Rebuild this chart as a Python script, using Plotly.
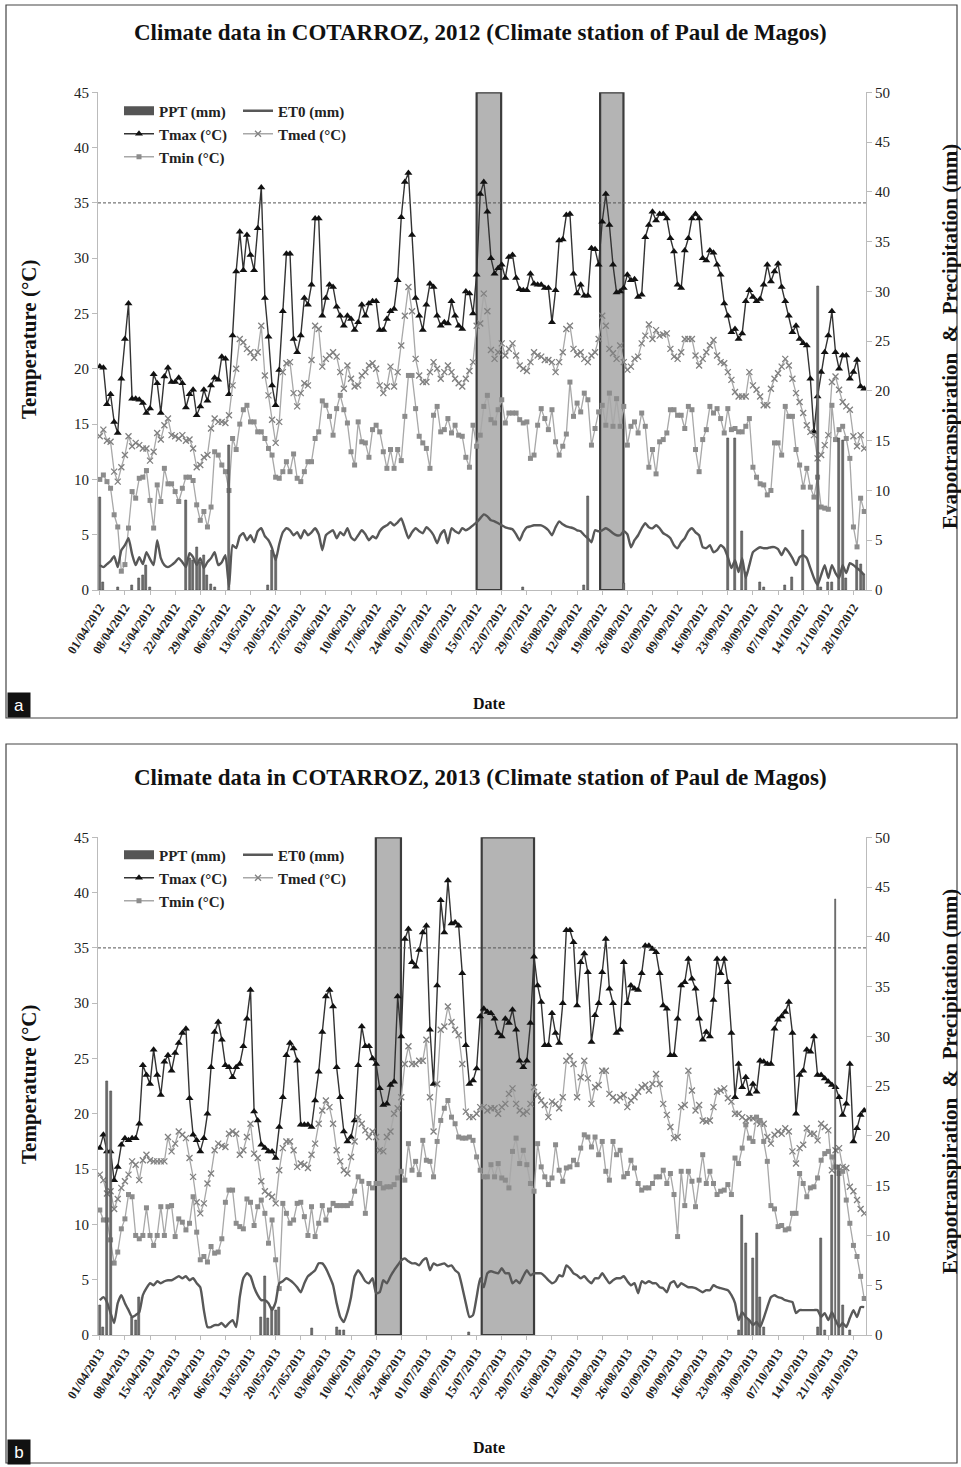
import pandas as pd
import plotly.graph_objects as go

# ---------------- DATA ----------------
START_2012 = "2012-04-01"
START_2013 = "2013-04-01"

TMAX_2012 = [20.2, 20.1, 16.8, 17.7, 15.2, 14.2, 19.1, 22.7, 25.9, 17.3,
             17.3, 17.2, 16.9, 16.0, 16.4, 19.5, 18.7, 16.0, 19.3, 20.1,
             18.8, 18.8, 19.2, 18.7, 16.5, 17.7, 18.1, 15.8, 16.6, 18.1,
             17.1, 18.5, 19.2, 19.0, 21.1, 20.9, 17.7, 23.0, 28.8, 32.4,
             28.9, 32.1, 30.3, 28.9, 32.7, 36.4, 26.4, 22.9, 18.5, 16.7,
             19.9, 25.2, 30.4, 30.4, 22.7, 21.5, 23.0, 26.4, 25.8, 27.6,
             33.6, 33.6, 24.8, 26.4, 27.6, 27.4, 25.6, 24.8, 23.9, 24.8,
             24.5, 23.5, 24.2, 25.8, 24.8, 25.9, 26.1, 26.1, 23.5, 23.5,
             24.5, 25.2, 25.4, 28.0, 33.7, 36.9, 37.7, 32.1, 26.4, 24.8,
             23.5, 25.8, 27.7, 27.4, 24.8, 23.9, 24.2, 24.1, 26.1, 24.8,
             23.9, 23.6, 27.0, 26.8, 25.0, 28.5, 35.8, 36.9, 34.2, 30.0,
             28.6, 29.1, 29.4, 28.2, 30.1, 30.3, 28.2, 27.2, 27.1, 27.1,
             28.6, 27.7, 27.6, 27.6, 27.3, 27.3, 24.2, 27.1, 31.6, 31.7,
             33.9, 34.0, 28.6, 26.8, 27.6, 26.6, 26.6, 30.9, 30.8, 29.4,
             33.3, 35.8, 33.0, 29.4, 26.9, 27.0, 27.3, 28.5, 28.0, 28.1,
             26.5, 26.7, 31.9, 33.0, 34.2, 33.4, 34.0, 34.0, 33.6, 31.8,
             30.6, 27.6, 27.3, 30.7, 31.8, 33.6, 34.0, 33.6, 30.0, 29.8,
             30.7, 30.5, 29.4, 28.5, 25.9, 24.8, 23.3, 23.6, 22.7, 23.2,
             26.1, 27.1, 26.5, 26.1, 26.3, 27.6, 29.4, 27.9, 28.8, 29.5,
             27.4, 26.1, 24.8, 23.3, 23.9, 22.7, 22.3, 22.1, 19.1, 14.3,
             17.5, 19.7, 21.5, 23.0, 25.2, 21.5, 20.0, 21.2, 21.2, 19.1,
             19.7, 20.8, 18.4, 18.2]

TMED_2012 = [13.9, 14.5, 13.5, 13.4, 10.7, 9.8, 11.1, 12.2, 13.9, 13.0,
             13.3, 13.1, 12.8, 12.8, 11.7, 12.5, 14.2, 13.6, 14.9, 15.5,
             14.0, 13.9, 13.7, 14.0, 13.5, 13.6, 12.8, 11.1, 11.3, 12.0,
             12.2, 14.6, 15.5, 15.2, 15.2, 15.1, 15.8, 18.5, 20.0, 22.7,
             22.4, 21.8, 21.5, 21.0, 21.5, 23.9, 19.4, 17.6, 15.4, 13.3,
             15.2, 19.7, 20.5, 20.6, 17.8, 16.6, 17.8, 18.7, 18.5, 20.8,
             23.9, 23.6, 20.2, 20.9, 21.2, 21.5, 21.1, 19.7, 18.2, 20.3,
             19.1, 18.4, 18.5, 19.4, 19.7, 20.3, 20.5, 20.0, 18.5, 17.8,
             18.4, 20.2, 18.4, 19.7, 22.1, 24.8, 27.4, 25.2, 20.9, 19.4,
             18.8, 18.8, 19.7, 20.6, 20.0, 19.1, 19.7, 20.3, 19.7, 19.1,
             18.7, 18.4, 19.1, 19.8, 20.6, 23.9, 24.1, 26.8, 25.2, 21.7,
             20.9, 21.5, 22.3, 21.2, 21.8, 22.3, 21.2, 20.3, 20.0, 19.8,
             20.6, 21.5, 21.2, 21.1, 20.8, 20.8, 20.6, 19.7, 20.6, 21.5,
             23.6, 23.9, 21.8, 21.3, 21.5, 20.9, 20.6, 21.2, 21.5, 22.7,
             24.8, 23.9, 21.8, 21.4, 20.9, 22.1, 20.6, 19.9, 20.2, 20.9,
             21.1, 22.3, 23.0, 24.0, 22.7, 23.5, 23.0, 23.1, 23.2, 21.8,
             21.1, 20.9, 21.5, 22.7, 22.7, 22.7, 21.2, 20.3, 20.9, 21.5,
             22.1, 22.6, 21.2, 20.6, 20.5, 19.7, 19.0, 17.9, 17.5, 17.5,
             17.5, 19.7, 18.5, 18.1, 17.5, 16.7, 16.7, 18.2, 19.1, 19.6,
             20.2, 20.9, 20.3, 19.1, 17.8, 17.0, 16.0, 14.9, 14.3, 14.0,
             11.9, 12.2, 13.1, 14.0, 18.8, 19.3, 18.1, 17.0, 16.6, 16.3,
             13.9, 13.0, 14.0, 12.8]

TMIN_2012 = [10.0, 10.4, 9.8, 9.2, 6.8, 5.7, 1.7, 2.3, 5.6, 8.9,
             8.3, 10.1, 10.2, 10.8, 8.1, 5.6, 9.5, 8.0, 11.0, 9.6,
             9.6, 8.9, 8.0, 9.2, 10.2, 10.2, 9.9, 7.7, 6.3, 7.1,
             5.7, 7.5, 12.5, 12.2, 11.3, 10.7, 9.0, 13.7, 12.7, 15.0,
             16.3, 16.7, 15.2, 15.2, 14.3, 14.3, 13.7, 12.8, 12.2, 10.2,
             10.1, 10.7, 11.6, 10.7, 12.3, 10.1, 9.8, 10.7, 11.6, 11.6,
             13.7, 14.3, 17.1, 16.7, 15.7, 14.0, 16.4, 17.6, 16.3, 15.1,
             12.5, 11.3, 15.2, 13.4, 13.3, 12.0, 14.5, 14.9, 14.3, 12.5,
             11.0, 12.7, 11.0, 12.7, 11.7, 15.7, 19.4, 19.4, 16.4, 13.9,
             13.3, 12.8, 11.0, 15.8, 16.6, 14.3, 14.5, 15.5, 14.2, 14.9,
             14.0, 13.9, 12.0, 11.1, 14.9, 13.0, 14.0, 16.6, 17.6, 15.4,
             15.1, 16.3, 17.2, 15.1, 16.0, 16.0, 16.0, 15.4, 15.1, 15.2,
             11.9, 12.2, 14.9, 16.4, 15.5, 14.5, 16.3, 13.4, 12.2, 13.0,
             14.1, 18.8, 15.7, 16.9, 16.1, 17.8, 17.2, 13.1, 14.6, 16.1,
             16.7, 14.9, 17.8, 14.8, 17.3, 14.8, 16.6, 13.1, 14.8, 15.2,
             14.2, 16.0, 14.8, 11.1, 12.7, 10.5, 13.4, 13.6, 14.2, 16.3,
             16.3, 15.8, 15.8, 14.6, 16.6, 16.3, 12.7, 10.7, 13.6, 14.5,
             16.6, 16.0, 16.4, 15.5, 14.2, 16.4, 14.5, 14.6, 14.3, 14.3,
             14.8, 15.5, 11.1, 10.2, 9.6, 9.5, 8.6, 9.0, 13.3, 13.3,
             12.2, 16.6, 15.7, 15.7, 12.7, 11.3, 9.3, 11.0, 9.3, 8.4,
             10.2, 7.5, 7.4, 7.3, 16.7, 13.6, 14.5, 14.8, 13.7, 11.9,
             5.7, 3.9, 8.3, 7.1]

ET0_2012 = [2.5, 2.3, 2.6, 2.9, 3.4, 2.3, 4.0, 4.5, 5.2, 3.6,
            2.5, 3.3, 2.6, 3.8, 3.1, 2.5, 5.0, 3.2, 2.5, 2.3,
            2.5, 2.8, 3.2, 2.8, 2.3, 3.7, 3.3, 2.5, 3.2, 2.2,
            2.8, 3.2, 3.8, 2.5, 2.8, 3.5, 0.3, 4.5, 4.2, 5.4,
            5.7, 5.0, 5.5, 4.8, 5.9, 6.2, 5.4, 5.0, 4.2, 3.0,
            4.6, 5.8, 6.2, 6.0, 5.5, 5.8, 5.2, 6.0, 5.5, 5.8,
            6.2, 5.6, 4.0, 5.5, 5.8, 6.0, 5.2, 5.8, 5.5, 6.2,
            5.3, 5.0, 5.5, 6.0, 5.6, 5.0, 5.4, 5.2, 5.9, 6.3,
            6.5, 6.8, 6.5, 6.8, 7.2, 6.2, 5.2, 5.8, 6.2, 5.9,
            5.7, 6.3, 6.0, 5.5, 4.7, 5.6, 6.0, 4.7, 6.2, 5.9,
            5.7, 6.2, 6.0, 6.2, 6.5, 6.8, 7.2, 7.6, 7.4, 7.0,
            6.9, 6.7, 6.5, 6.3, 6.2, 6.1, 5.6, 5.0, 5.8, 6.3,
            6.4, 6.5, 6.5, 6.5, 6.3, 6.0, 5.5, 6.3, 6.9, 6.6,
            6.4, 6.3, 6.2, 6.0, 5.9, 5.5, 5.2, 4.8, 6.0, 5.9,
            6.0, 6.2, 6.0, 5.7, 5.5, 5.5, 5.9, 5.6, 4.3, 5.0,
            5.5, 6.2, 6.7, 6.3, 6.2, 6.5, 6.2, 5.7, 5.5, 5.2,
            4.5, 4.2, 4.8, 5.2, 5.9, 6.2, 5.8, 5.5, 4.3, 4.2,
            4.5, 3.8, 4.0, 4.5, 4.2, 3.3, 2.2, 3.0, 1.8, 3.2,
            1.2, 2.5, 3.8, 4.1, 4.3, 4.2, 4.2, 4.3, 4.3, 4.1,
            3.5, 4.2, 3.8, 3.2, 2.5, 3.3, 3.5, 3.2, 2.2, 1.2,
            0.5, 1.5, 2.5, 1.2, 2.5, 1.7, 1.2, 2.5, 1.7, 2.7,
            2.5, 2.2, 1.9, 1.5]

PPT_2012_DATES = ["2012-04-01", "2012-04-02", "2012-04-06", "2012-04-10", "2012-04-12",
                  "2012-04-13", "2012-04-14", "2012-04-15", "2012-04-25", "2012-04-26",
                  "2012-04-27", "2012-04-28", "2012-04-29", "2012-04-30", "2012-05-01",
                  "2012-05-02", "2012-05-03", "2012-05-07", "2012-05-18", "2012-05-19",
                  "2012-05-20", "2012-07-28", "2012-08-14", "2012-08-15", "2012-08-25",
                  "2012-09-23", "2012-09-25", "2012-09-27", "2012-09-28", "2012-10-02",
                  "2012-10-03", "2012-10-09", "2012-10-11", "2012-10-14", "2012-10-18",
                  "2012-10-19", "2012-10-21", "2012-10-22", "2012-10-24", "2012-10-25",
                  "2012-10-26", "2012-10-29", "2012-10-30", "2012-10-31"]
PPT_2012_MM = [9.3, 0.8, 0.3, 0.5, 1.2,
               1.5, 2.5, 0.3, 9.0, 3.2,
               3.0, 4.3, 2.8, 3.5, 1.5,
               0.6, 0.3, 14.5, 0.5, 4.0,
               3.5, 0.3, 0.5, 9.4, 0.7,
               15.2, 15.2, 5.9, 1.8, 0.8,
               0.3, 0.5, 1.3, 6.0, 30.5,
               0.3, 0.8, 0.8, 15.2, 15.0,
               1.2, 3.0, 2.6, 1.6]

TMAX_2013 = [16.9, 18.1, 16.6, 16.6, 14.0, 15.2, 17.2, 17.8, 17.6, 17.8,
             17.8, 19.1, 24.4, 23.5, 22.7, 25.8, 23.5, 21.7, 24.7, 25.3,
             23.9, 25.5, 26.4, 27.3, 27.7, 21.4, 18.1, 17.6, 16.6, 17.8,
             20.0, 24.2, 27.4, 28.3, 26.7, 24.4, 24.2, 23.3, 24.2, 24.5,
             26.1, 28.6, 31.2, 20.2, 19.4, 17.2, 16.9, 16.6, 16.6, 16.0,
             18.8, 21.5, 25.3, 26.4, 25.9, 24.8, 19.0, 19.0, 19.0, 18.8,
             21.2, 23.8, 27.4, 30.6, 31.2, 29.7, 24.2, 21.5, 18.4, 17.5,
             17.9, 19.4, 24.4, 27.9, 26.1, 26.1, 25.0, 24.5, 22.3, 20.8,
             20.9, 22.6, 22.9, 30.6, 27.0, 35.8, 36.7, 33.7, 33.3, 34.8,
             36.4, 37.0, 27.6, 22.7, 31.6, 39.3, 36.4, 41.1, 37.2, 37.3,
             37.0, 32.7, 26.2, 22.7, 23.0, 24.1, 28.8, 29.5, 29.2, 29.1,
             28.6, 27.3, 27.0, 28.6, 28.2, 29.4, 27.6, 24.8, 24.2, 24.8,
             28.2, 34.2, 31.6, 30.1, 26.2, 26.2, 29.1, 27.3, 26.4, 30.0,
             36.6, 36.6, 35.5, 29.8, 33.7, 34.5, 32.8, 26.5, 28.9, 30.0,
             32.8, 35.8, 31.3, 30.0, 27.3, 27.6, 33.7, 30.0, 31.6, 31.3,
             31.2, 32.7, 35.2, 35.2, 34.9, 34.6, 32.7, 29.8, 29.5, 25.3,
             25.3, 28.6, 31.6, 31.9, 34.0, 32.2, 31.3, 28.6, 26.7, 27.4,
             27.0, 30.3, 34.0, 32.7, 34.0, 31.9, 27.3, 21.5, 24.5, 22.4,
             23.3, 21.8, 22.7, 22.0, 24.8, 24.7, 24.5, 24.5, 27.7, 28.5,
             28.8, 29.2, 30.1, 27.3, 20.0, 23.5, 23.9, 25.8, 25.6, 27.0,
             23.5, 23.5, 23.2, 22.9, 22.6, 22.4, 21.5, 19.9, 20.9, 24.5,
             17.5, 18.7, 19.9, 20.3]

TMED_2013 = [14.5, 14.0, 12.8, 13.0, 11.4, 12.3, 13.3, 13.9, 14.5, 15.7,
             15.4, 14.0, 15.8, 16.3, 15.8, 15.7, 15.7, 15.7, 15.7, 17.9,
             16.6, 17.3, 18.4, 18.1, 17.8, 16.0, 14.3, 12.0, 11.0, 11.9,
             13.7, 14.6, 16.7, 17.3, 17.1, 17.0, 18.2, 18.4, 18.2, 16.3,
             16.7, 17.9, 19.1, 16.4, 16.0, 13.9, 13.0, 12.7, 12.5, 11.9,
             14.9, 16.9, 17.5, 17.5, 16.7, 15.2, 15.5, 15.4, 15.1, 16.3,
             17.3, 19.1, 20.3, 21.2, 20.6, 19.1, 16.7, 15.7, 14.9, 14.6,
             16.1, 17.5, 19.7, 19.1, 18.5, 17.9, 18.4, 17.9, 16.7, 16.6,
             17.9, 18.4, 20.0, 20.5, 21.5, 24.5, 26.1, 24.5, 24.5, 24.8,
             24.8, 26.7, 21.5, 18.4, 22.7, 27.6, 27.9, 29.7, 28.3, 27.6,
             27.1, 24.5, 20.2, 19.7, 19.7, 20.0, 20.6, 20.6, 20.3, 20.5,
             20.5, 20.0, 20.6, 20.9, 21.8, 22.3, 20.9, 20.3, 20.0, 20.2,
             20.9, 22.4, 21.7, 21.2, 20.8, 19.7, 21.1, 20.9, 20.5, 21.5,
             24.8, 25.2, 24.5, 21.5, 23.3, 24.8, 23.2, 20.9, 22.4, 22.6,
             23.9, 23.9, 21.8, 21.5, 21.2, 21.5, 21.7, 20.6, 21.2, 21.5,
             22.0, 22.4, 22.6, 22.1, 22.7, 23.6, 22.7, 20.9, 19.9, 18.8,
             17.8, 17.9, 20.6, 20.8, 23.9, 22.1, 20.3, 20.8, 19.4, 19.3,
             19.4, 20.6, 22.0, 22.1, 22.3, 21.4, 21.1, 20.0, 20.0, 19.7,
             19.4, 19.6, 19.6, 19.3, 19.1, 19.1, 17.9, 17.3, 18.1, 18.4,
             18.2, 18.7, 18.4, 16.6, 15.5, 16.9, 17.2, 18.7, 18.2, 18.2,
             17.6, 19.1, 18.8, 18.5, 14.9, 16.7, 16.9, 15.2, 15.1, 13.4,
             13.0, 12.2, 11.4, 11.0]

TMIN_2013 = [11.3, 10.4, 10.4, 8.6, 6.5, 7.5, 9.6, 10.5, 12.7, 12.5,
             9.0, 8.7, 9.0, 11.5, 9.0, 8.1, 9.0, 11.6, 9.0, 11.6,
             11.7, 8.9, 10.5, 10.2, 9.5, 10.1, 12.5, 9.3, 6.8, 7.1,
             6.6, 8.0, 7.4, 7.5, 8.7, 12.0, 13.1, 13.1, 10.1, 9.8,
             9.6, 12.3, 12.0, 9.9, 11.6, 12.2, 11.0, 8.3, 10.4, 6.8,
             4.2, 11.9, 11.0, 10.1, 10.4, 11.9, 12.0, 10.7, 9.0, 11.6,
             8.9, 10.1, 11.7, 10.4, 11.3, 11.9, 11.7, 11.7, 11.7, 11.7,
             11.9, 13.0, 14.3, 13.9, 11.0, 13.7, 13.3, 13.7, 13.7, 13.3,
             13.4, 13.4, 13.6, 14.2, 14.8, 14.0, 17.3, 14.9, 15.7, 14.5,
             17.6, 15.8, 15.7, 14.3, 17.5, 19.4, 20.5, 21.2, 19.7, 19.1,
             17.9, 17.8, 17.8, 17.9, 17.6, 16.1, 14.9, 14.3, 14.3, 15.4,
             14.3, 15.5, 14.2, 14.0, 13.3, 16.6, 17.8, 15.5, 16.7, 15.4,
             13.7, 13.0, 17.3, 15.2, 14.3, 13.6, 14.2, 17.2, 14.9, 13.9,
             15.1, 15.2, 15.8, 15.4, 16.9, 18.1, 17.9, 17.0, 17.9, 16.3,
             17.5, 14.8, 14.0, 17.5, 16.3, 16.7, 14.3, 14.6, 15.8, 15.1,
             13.7, 13.1, 13.3, 13.3, 13.7, 14.3, 14.3, 14.9, 13.7, 14.6,
             12.7, 8.9, 14.8, 11.7, 14.8, 13.9, 11.6, 14.0, 16.3, 13.7,
             14.8, 13.7, 12.7, 13.0, 13.1, 13.6, 12.7, 16.0, 15.5, 16.9,
             19.0, 17.8, 17.5, 19.7, 19.4, 17.5, 15.7, 11.7, 11.4, 9.8,
             9.9, 9.5, 9.6, 11.0, 11.0, 14.6, 13.7, 12.5, 13.3, 13.4,
             14.2, 15.8, 16.4, 16.6, 16.1, 15.2, 14.6, 14.8, 12.2, 10.1,
             8.1, 7.1, 5.3, 3.3]

ET0_2013 = [3.5, 3.8, 3.3, 2.2, 1.2, 3.2, 4.0, 3.2, 2.5, 1.8,
            2.0, 2.3, 4.0, 4.7, 5.2, 5.0, 5.4, 5.2, 5.4, 5.5,
            5.5, 5.7, 5.9, 5.7, 5.9, 5.5, 5.7, 5.2, 4.8, 2.5,
            0.8, 0.8, 1.0, 1.0, 1.2, 0.8, 1.2, 1.5, 0.8, 3.8,
            5.7, 6.2, 5.9, 4.8, 4.0, 3.5, 3.5, 3.2, 2.5, 3.3,
            5.2, 5.4, 5.7, 5.5, 5.2, 4.8, 4.3, 5.2, 5.9, 6.2,
            6.5, 7.2, 7.2, 6.7, 5.9, 5.0, 3.2, 1.8, 1.3, 2.3,
            3.8, 5.9, 6.5, 6.0, 5.4, 5.2, 5.7, 4.2, 4.3, 5.5,
            5.2, 5.9, 6.5, 7.0, 7.5, 7.7, 7.4, 7.2, 7.2, 7.0,
            7.5, 7.7, 6.5, 7.2, 7.0, 7.1, 7.2, 6.9, 7.0, 6.5,
            6.2, 4.8, 3.2, 1.8, 2.0, 3.8, 5.7, 4.8, 6.2, 6.4,
            6.3, 6.2, 6.7, 6.2, 6.2, 5.2, 5.5, 5.2, 5.9, 6.5,
            6.0, 6.2, 6.2, 6.2, 5.9, 5.5, 5.2, 5.4, 6.0, 5.9,
            7.0, 6.7, 6.2, 6.0, 5.7, 5.9, 5.5, 5.2, 5.7, 5.7,
            6.2, 5.7, 5.2, 5.5, 5.7, 5.7, 5.9, 5.4, 5.0, 5.2,
            4.2, 5.4, 5.2, 5.4, 5.2, 5.2, 4.8, 4.7, 4.3, 5.2,
            5.4, 4.8, 5.2, 5.0, 4.8, 4.8, 4.7, 4.5, 4.3, 4.5,
            4.5, 5.0, 4.8, 4.7, 4.6, 4.5, 4.0, 3.2, 1.5, 2.3,
            1.8, 1.5, 1.0, 1.3, 0.8, 1.7, 2.8, 3.8, 4.0, 3.8,
            3.7, 3.5, 3.4, 3.3, 2.2, 2.5, 2.5, 2.5, 2.5, 2.5,
            2.5, 1.8, 2.2, 1.5, 2.3, 1.5, 0.8, 1.2, 0.8, 1.7,
            2.5, 1.8, 2.8, 2.8]

PPT_2013_DATES = ["2013-04-01", "2013-04-02", "2013-04-03", "2013-04-04", "2013-04-10",
                  "2013-04-11", "2013-04-12", "2013-05-16", "2013-05-17", "2013-05-18",
                  "2013-05-19", "2013-05-20", "2013-05-21", "2013-05-30", "2013-06-06",
                  "2013-06-07", "2013-06-08", "2013-07-13", "2013-09-26", "2013-09-27",
                  "2013-09-28", "2013-09-29", "2013-09-30", "2013-10-01", "2013-10-02",
                  "2013-10-03", "2013-10-18", "2013-10-19", "2013-10-20", "2013-10-22",
                  "2013-10-23", "2013-10-24", "2013-10-25", "2013-10-27"]
PPT_2013_MM = [3.0, 0.8, 25.5, 24.5, 1.8,
               1.5, 3.8, 1.8, 5.9, 1.7,
               2.8, 2.5, 2.8, 0.7, 0.8,
               0.5, 0.5, 0.3, 0.5, 12.0,
               9.2, 1.5, 7.7, 10.2, 3.8,
               0.8, 0.8, 9.7, 0.5, 16.0,
               43.8, 17.0, 3.0, 0.5]

# shaded periods (start, end) and temperature threshold
SHADE_2012 = [("2012-07-15 00:00", "2012-07-21 20:00"), ("2012-08-18 10:00", "2012-08-24 22:00")]
SHADE_2013 = [("2013-06-16 22:00", "2013-06-23 22:00"), ("2013-07-16 10:00", "2013-07-31 00:00")]
THRESHOLD = 35

TITLE_2012 = "Climate data in COTARROZ, 2012 (Climate station of Paul de Magos)"
TITLE_2013 = "Climate data in COTARROZ, 2013 (Climate station of Paul de Magos)"

# ---------------- FIGURE ----------------
SERIF = "Liberation Serif"
W, H = 961, 1467
ML, MR, MT, MB = 98, 95, 92, 132
PW, PH = W - ML - MR, H - MT - MB


def px(x):
    return (x - ML) / PW


def py(y):
    return (H - MB - y) / PH


fig = go.Figure()

panels = [
    dict(start=START_2012, tmax=TMAX_2012, tmed=TMED_2012, tmin=TMIN_2012, et0=ET0_2012,
         pd_=PPT_2012_DATES, pm=PPT_2012_MM, xa="x", ya="y", ya2="y2",
         legs=("legend", "legend2", "legend3"), shade=SHADE_2012),
    dict(start=START_2013, tmax=TMAX_2013, tmed=TMED_2013, tmin=TMIN_2013, et0=ET0_2013,
         pd_=PPT_2013_DATES, pm=PPT_2013_MM, xa="x2", ya="y3", ya2="y4",
         legs=("legend4", "legend5", "legend6"), shade=SHADE_2013),
]

DAY_MS = 86400000
for p in panels:
    dates = pd.date_range(p["start"], periods=len(p["tmax"]))
    l1, l2, l3 = p["legs"]
    fig.add_trace(go.Bar(x=p["pd_"], y=p["pm"], name="PPT (mm)", xaxis=p["xa"], yaxis=p["ya2"],
                         width=0.55 * DAY_MS, marker=dict(color="#6e6e6e", line=dict(color="#4a4a4a", width=0.6)),
                         showlegend=False))
    # legend key for PPT drawn as a thick bar
    fig.add_trace(go.Scatter(x=[None], y=[None], name="PPT (mm)", mode="lines", xaxis=p["xa"], yaxis=p["ya2"],
                             line=dict(color="#555555", width=9), legend=l1))
    fig.add_trace(go.Scatter(x=dates, y=p["et0"], name="ET0 (mm)", mode="lines", xaxis=p["xa"], yaxis=p["ya2"],
                             line=dict(color="#585858", width=2.4, shape="spline", smoothing=0.5),
                             legend=l1))
    fig.add_trace(go.Scatter(x=dates, y=p["tmax"], name="Tmax (°C)", mode="lines+markers",
                             xaxis=p["xa"], yaxis=p["ya"],
                             line=dict(color="#333333", width=1.4),
                             marker=dict(symbol="triangle-up", size=7, color="#111111"),
                             legend=l2))
    fig.add_trace(go.Scatter(x=dates, y=p["tmed"], name="Tmed (°C)", mode="lines+markers",
                             xaxis=p["xa"], yaxis=p["ya"],
                             line=dict(color="#a8a8a8", width=1.3),
                             marker=dict(symbol="x-thin", size=6, color="#808080",
                                         line=dict(color="#808080", width=1.3)),
                             legend=l2))
    fig.add_trace(go.Scatter(x=dates, y=p["tmin"], name="Tmin (°C)", mode="lines+markers",
                             xaxis=p["xa"], yaxis=p["ya"],
                             line=dict(color="#a8a8a8", width=1.3),
                             marker=dict(symbol="square", size=5, color="#8c8c8c"),
                             legend=l3))

    for (s0, s1) in p["shade"]:
        fig.add_shape(type="rect", xref=p["xa"], yref=p["ya"], x0=s0, x1=s1, y0=0, y1=45,
                      fillcolor="#b4b4b4", line=dict(color="#3c3c3c", width=2.2), layer="below")
    fig.add_shape(type="line", xref=p["xa"] + " domain", yref=p["ya"], x0=0, x1=1,
                  y0=THRESHOLD, y1=THRESHOLD, line=dict(color="#555555", width=1, dash="3px,2px"))

tick_font = dict(family=SERIF, size=15, color="#222")
date_font = dict(family=SERIF, size=12.5, color="#222", weight="bold")


def xaxis(start, anchor):
    s = pd.Timestamp(start)
    return dict(type="date", anchor=anchor, domain=[0, 1],
                range=[s - pd.Timedelta(hours=12), s + pd.Timedelta(days=213, hours=12)],
                tick0=start, dtick=7 * DAY_MS, tickformat="%d/%m/%Y", tickangle=-57,
                ticks="outside", ticklen=4, tickcolor="#bbb", showline=True, linecolor="#bbb",
                showgrid=False, zeroline=False, tickfont=date_font)


def yaxis(dom, rng, side="left", overlay=None, anchor=None):
    d = dict(domain=dom, range=[0, rng], dtick=5, ticks="outside", ticklen=5, tickcolor="#bbb",
             showline=True, linecolor="#bbb", showgrid=False, zeroline=False, tickfont=tick_font,
             side=side)
    if overlay:
        d["overlaying"] = overlay
    if anchor:
        d["anchor"] = anchor
    return d


dom_a = [py(590), py(92.3)]
dom_b = [py(1335), py(837.3)]

fig.update_layout(
    width=W, height=H, margin=dict(l=ML, r=MR, t=MT, b=MB),
    paper_bgcolor="white", plot_bgcolor="white", barmode="overlay", bargap=0,
    xaxis=xaxis(START_2012, "y"),
    xaxis2=xaxis(START_2013, "y3"),
    yaxis=yaxis(dom_a, 45, anchor="x"),
    yaxis2=yaxis(dom_a, 50, side="right", overlay="y", anchor="x"),
    yaxis3=yaxis(dom_b, 45, anchor="x2"),
    yaxis4=yaxis(dom_b, 50, side="right", overlay="y3", anchor="x2"),
)

leg_font = dict(family=SERIF, size=15, color="#222", weight="bold")
rows_a = [111, 134, 157]
rows_b = [855, 878, 901]
for names, rows in ((("legend", "legend2", "legend3"), rows_a), (("legend4", "legend5", "legend6"), rows_b)):
    for nm, ry in zip(names, rows):
        fig.update_layout({nm: dict(orientation="h", x=px(119), y=py(ry), xanchor="left", yanchor="middle",
                                    font=leg_font, bgcolor="rgba(0,0,0,0)", entrywidth=74,
                                    entrywidthmode="pixels", itemwidth=30, tracegroupgap=0)})

ann = []
ann.append(dict(text=f"<b>{TITLE_2012}</b>", x=px(480), y=py(33)))
ann.append(dict(text=f"<b>{TITLE_2013}</b>", x=px(480), y=py(777)))
for a in ann:
    a.update(xref="paper", yref="paper", showarrow=False, xanchor="center", yanchor="middle",
             font=dict(family=SERIF, size=23, color="#111"))
vlab_font = dict(family=SERIF, size=21, color="#111")
date_lab_font = dict(family=SERIF, size=16, color="#111")
for cy, dy in ((340, 703), (1085, 1447)):
    ann.append(dict(text="<b>Temperature (°C)</b>", x=px(29), y=py(cy), textangle=-90, font=vlab_font,
                    xref="paper", yref="paper", showarrow=False, xanchor="center", yanchor="middle"))
    ann.append(dict(text="<b>Evapotranspiration  &amp;  Precipitation (mm)</b>", x=px(950), y=py(cy - 3),
                    textangle=-90, font=vlab_font, xref="paper", yref="paper", showarrow=False,
                    xanchor="center", yanchor="middle"))
    ann.append(dict(text="<b>Date</b>", x=px(489), y=py(dy), font=date_lab_font,
                    xref="paper", yref="paper", showarrow=False, xanchor="center", yanchor="middle"))
for t, cy in (("a", 705), ("b", 1452)):
    ann.append(dict(text=t, x=px(19), y=py(cy), xref="paper", yref="paper", showarrow=False,
                    xanchor="center", yanchor="middle",
                    bgcolor="#111", font=dict(family="Liberation Sans", size=17, color="white"),
                    borderpad=2, width=18, height=20))
fig.update_layout(annotations=ann)

# panel frames
for y0, y1 in ((5, 718), (744, 1463)):
    fig.add_shape(type="rect", xref="paper", yref="paper", x0=px(6), x1=px(957), y0=py(y1), y1=py(y0),
                  line=dict(color="#444", width=1.2), fillcolor="rgba(0,0,0,0)", layer="below")

fig.write_html("out.html", config={"displayModeBar": False},
               post_script="document.body.style.margin='0px';document.body.style.overflow='hidden';")
